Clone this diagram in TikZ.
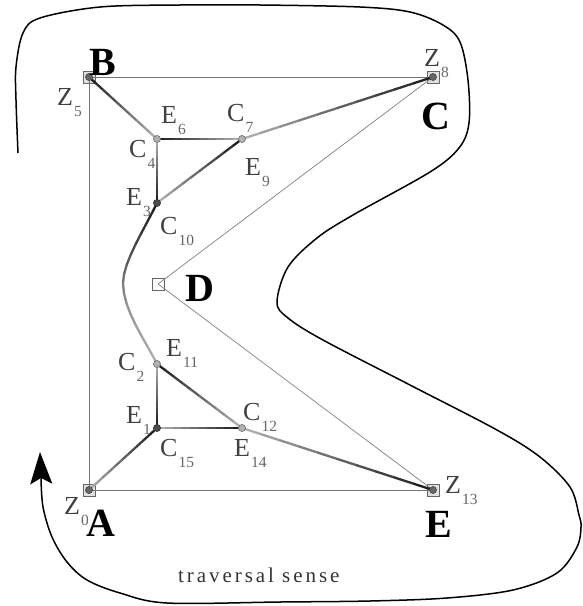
\documentclass[tikz,border=0pt]{standalone}
\usepackage{fontspec}
\setmainfont{Liberation Serif}
\usetikzlibrary{arrows.meta,calc}
\colorlet{linklight}{black!32}
\colorlet{linkdark}{black!88}
\tikzset{
  vertex/.style={draw=black!60, line width=0.8pt, minimum size=12pt, inner sep=0pt, fill=black!12},
  knot/.style={circle, draw=black!55, line width=0.7pt, minimum size=7pt, inner sep=0pt, fill=black!30},
  darkknot/.style={knot, draw=black!80, fill=black!70},
  endknot/.style={darkknot, draw=black!70, fill=black!60, minimum size=7pt},
  frame/.style={draw=black!55, line width=1pt},
  thinframe/.style={draw=black!50, line width=0.7pt},
  sense/.style={draw=black, line width=1.5pt},
  corner/.style={font=\fontsize{40}{40}\selectfont\bfseries, inner sep=0pt, anchor=base west},
  tag/.style={font=\fontsize{26}{26}\selectfont, text=black!75, inner sep=0pt, anchor=base west},
}
% one connector as short pieces running from the first colour to the second
\newcommand{\gradlink}[4]{%
  \foreach \t [evaluate=\t as \u using \t+0.1, evaluate=\t as \m using int(\t*110)] in {0,0.1,...,0.95}
    \draw[line width=2.3pt, line cap=round, color=#3!\m!#4] ($(#1)!\t!(#2)$) -- ($(#1)!\u!(#2)$);
}
\newcommand{\lab}[2]{#1\hspace{1pt}\raisebox{-11pt}{\fontsize{15.5}{15.5}\selectfont\color{black!60}#2}}
\begin{document}
\begin{tikzpicture}[x=1pt,y=-1pt]
\useasboundingbox (0,0) rectangle (583,606);
\node[vertex] (A) at (89,490) {};
\node[vertex] (B) at (89,77) {};
\node[vertex] (C) at (433,77) {};
\node[vertex, fill=none] (D) at (158,284) {};
\node[vertex] (E) at (433,490) {};
\coordinate (c4) at (157,139);
\coordinate (c7) at (242,139);
\coordinate (c10) at (157,203);
\coordinate (c2) at (157,364);
\coordinate (c15) at (157,428);
\coordinate (c12) at (242,428);
\coordinate (bulge) at (123,283);
% thin polygon
\draw[frame] (A.center) -- (B.center);
\draw[frame] (B.center) -- (C.center);
\draw[frame] (A.center) -- (E.center);
\draw[thinframe] (C.center) -- (D.center);
\draw[thinframe] (E.center) -- (D.center);
% spline pieces
\gradlink{B}{c4}{linklight}{linkdark}
\gradlink{c4}{c7}{linklight}{linkdark}
\gradlink{c4}{c10}{linkdark}{linklight}
\gradlink{c10}{c7}{linkdark}{linklight}
\gradlink{c7}{C}{linkdark}{linklight}
\gradlink{c2}{c15}{linkdark}{linklight}
\gradlink{c15}{c12}{linkdark}{linklight}
\gradlink{A}{c15}{linkdark}{linklight}
\gradlink{c12}{E}{linkdark}{linklight}
\gradlink{c2}{c12}{linklight}{linkdark}
% the bend between C10 and C2, cut in pieces too
\path (c10) .. controls (145,228) and (123,262) .. (bulge)
  coordinate[pos=0.125] (p1) coordinate[pos=0.25] (p2) coordinate[pos=0.375] (p3) coordinate[pos=0.5] (p4)
  coordinate[pos=0.625] (p5) coordinate[pos=0.75] (p6) coordinate[pos=0.875] (p7);
\path (bulge) .. controls (123,310) and (145,340) .. (c2)
  coordinate[pos=0.125] (q1) coordinate[pos=0.25] (q2) coordinate[pos=0.375] (q3) coordinate[pos=0.5] (q4)
  coordinate[pos=0.625] (q5) coordinate[pos=0.75] (q6) coordinate[pos=0.875] (q7);
\foreach \a/\b/\s in {c10/p1/88,p1/p2/84,p2/p3/80,p3/p4/75,p4/p5/70,p5/p6/65,p6/p7/60,p7/bulge/55,
    bulge/q1/50,q1/q2/46,q2/q3/42,q3/q4/40,q4/q5/38,q5/q6/36,q6/q7/34,q7/c2/32}
  \draw[line width=2.3pt, line cap=round, color=black!\s] (\a) -- (\b);
\node[knot] (k4) at (c4) {};
\node[knot] (k7) at (c7) {};
\node[darkknot] (k10) at (c10) {};
\node[knot] (k2) at (c2) {};
\node[darkknot] (k15) at (c15) {};
\node[knot] (k12) at (c12) {};
\node[endknot] (k0) at (A) {};
\node[endknot] (k5) at (B) {};
\node[endknot] (k8) at (C) {};
\node[endknot] (k13) at (E) {};
% corner letters
\node[corner] (lA) at (86,536) {A};
\node[corner] (lB) at (89,75) {B};
\node[corner] (lC) at (421,129) {C};
\node[corner] (lD) at (185,301) {D};
\node[corner] (lE) at (425,537) {E};
% small labels
\node[tag] (z0) at (64,514) {\lab{Z}{0}};
\node[tag] (z5) at (57,105) {\lab{Z}{5}};
\node[tag] (z8) at (424,66) {\lab{Z}{8}};
\node[tag] (z13) at (445,493) {\lab{Z}{13}};
\node[tag] (e6) at (161,123) {\lab{E}{6}};
\node[tag] (c7l) at (227,121) {\lab{C}{7}};
\node[tag] (c4l) at (129,157) {\lab{C}{4}};
\node[tag] (e9) at (245,175) {\lab{E}{9}};
\node[tag] (e3) at (126,205) {\lab{E}{3}};
\node[tag] (c10l) at (160,234) {\lab{C}{10}};
\node[tag] (c2l) at (118,370) {\lab{C}{2}};
\node[tag] (e11) at (166,356) {\lab{E}{11}};
\node[tag] (e1) at (126,423) {\lab{E}{1}};
\node[tag] (c12l) at (243,420) {\lab{C}{12}};
\node[tag] (c15l) at (160,456) {\lab{C}{15}};
\node[tag] (e14) at (234,456) {\lab{E}{14}};
% traversal curve
\coordinate (sensestart) at (18,153);
\coordinate (senseend) at (41,478);
\coordinate (sensetip) at (40,452);
\draw[sense] plot[smooth, tension=0.55] coordinates {(sensestart) (16,100) (16,67) (23,33) (40,18) (100,7)
  (180,5) (260,5) (360,7) (410,12) (443,25) (460,42) (468,80) (469,123) (459,148) (430,172)
  (353,215) (317,238) (288,267) (277,302) (288,318) (323,340) (410,385) (497,430) (540,457) (570,487)
  (579,515) (581,527) (577,547) (557,573) (513,590) (447,598) (370,601) (280,602) (167,603) (120,593)
  (87,580) (67,562) (52,537) (43,507) (senseend)};
\draw[-{Stealth[length=32pt,width=22pt,inset=6pt]}, line width=1.5pt] (senseend) -- (sensetip);
\node[font=\fontsize{21}{21}\selectfont, text=black!80, inner sep=0pt, anchor=base west] (trav) at (178,582) {\addfontfeature{LetterSpace=14}traversal sense};
\end{tikzpicture}
\end{document}
